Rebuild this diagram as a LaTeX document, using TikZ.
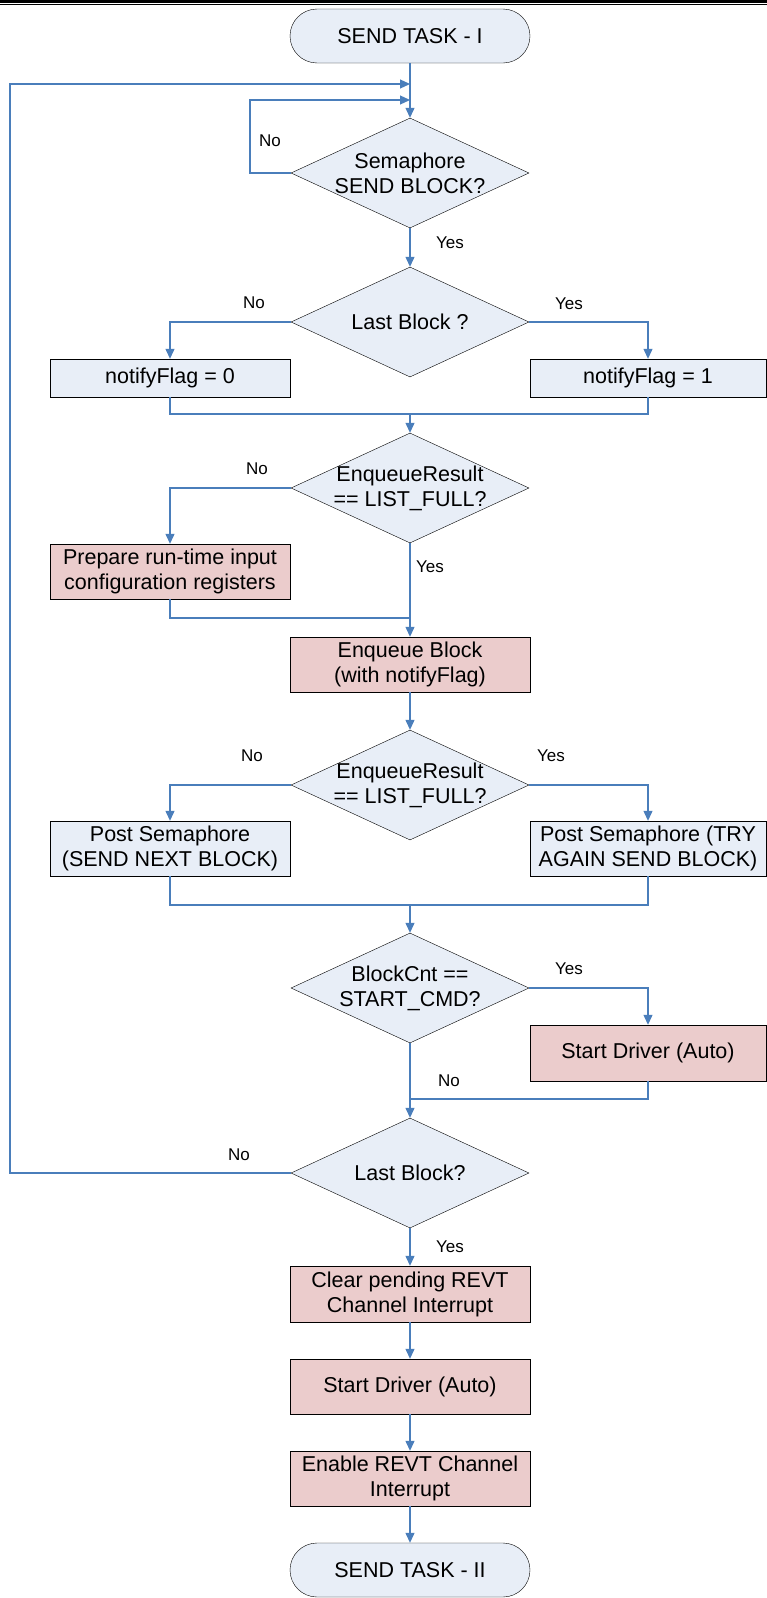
\documentclass[tikz,border=0pt]{standalone}
\usepackage{fontspec}
\setmainfont{Liberation Sans}
\usetikzlibrary{shapes.geometric, arrows.meta, positioning}

\definecolor{flowline}{RGB}{74,126,187}
\definecolor{fillblue}{RGB}{232,238,247}
\definecolor{fillpink}{RGB}{235,204,204}

\begin{document}
\begin{tikzpicture}[x=1pt, y=-1pt,
    every node/.style={font=\fontsize{21.5}{25}\selectfont},
    terminal/.style={draw=black, fill=fillblue, rounded corners=27pt, minimum width=240pt, minimum height=54pt, inner sep=0pt},
    decision/.style={draw=black, fill=fillblue, diamond, shape aspect=2.16, minimum width=238pt, minimum height=110pt, inner sep=-6pt, align=center},
    bluebox/.style={draw=black, fill=fillblue, minimum width=240pt, inner sep=0pt, align=center},
    pinkbox/.style={bluebox, fill=fillpink},
    tag/.style={font=\fontsize{17}{20}\selectfont, inner sep=0pt},
    flow/.style={draw=flowline, line width=1.2pt},
    flowarrow/.style={flow, -{Triangle[length=10pt,width=9pt]}}]

\useasboundingbox (0,0) rectangle (767,1598);

% Page rule at the top
\fill (0,0) rectangle (767,2.8);
\fill (0,4.2) rectangle (767,5.4);

% Start and first semaphore wait
\node[terminal] (start) at (410,36) {SEND TASK - I};
\node[decision] (semwait) at (410,173) {Semaphore\\SEND BLOCK?};

% Choose notifyFlag
\node[decision] (last1) at (410,322) {Last Block ?};
\node[bluebox, minimum height=38pt] (flag0) at (170,378) {notifyFlag = 0};
\node[bluebox, minimum width=236pt, minimum height=38pt] (flag1) at (648,378) {notifyFlag = 1};

% Enqueue the block
\node[decision] (full1) at (410,488) {EnqueueResult\\== LIST\_FULL?};
\node[pinkbox, minimum height=55pt] (prep) at (170,571.5) {Prepare run-time input\\configuration registers};
\node[pinkbox, minimum height=55pt] (enq) at (410,664.5) {Enqueue Block\\(with notifyFlag)};

% Post the semaphore
\node[decision] (full2) at (410,785) {EnqueueResult\\== LIST\_FULL?};
\node[bluebox, minimum height=55pt] (postnext) at (170,848.5) {Post Semaphore\\(SEND NEXT BLOCK)};
\node[bluebox, minimum width=236pt, minimum height=55pt] (postagain) at (648,848.5) {Post Semaphore (TRY\\AGAIN SEND BLOCK)};

% Start the driver once enough blocks are queued
\node[decision] (cnt) at (410,988) {BlockCnt ==\\START\_CMD?};
\node[pinkbox, minimum width=236pt, minimum height=56pt] (drvA) at (648,1053) {Start Driver (Auto)};

% Last block and the end
\node[decision] (last2) at (410,1173) {Last Block?};
\node[pinkbox, minimum height=56pt] (clear) at (410,1294) {Clear pending REVT\\Channel Interrupt};
\node[pinkbox, minimum height=55pt] (drvB) at (410,1386.5) {Start Driver (Auto)};
\node[pinkbox, minimum height=55pt] (enable) at (410,1478.5) {Enable REVT Channel\\Interrupt};
\node[terminal] (stop) at (410,1570) {SEND TASK - II};

% Points where lines meet
\coordinate (joinA) at (410,84);
\coordinate (joinB) at (410,100);
\coordinate (rail) at (10,0);
\coordinate (retry) at (250,0);
\coordinate (merge1) at (410,414);
\coordinate (merge2) at (410,618);
\coordinate (merge3) at (410,905);
\coordinate (merge4) at (410,1099);

% Connectors
\draw[flowarrow] (start) -- (semwait);
\draw[flowarrow] (semwait.west) -- (semwait.west -| retry) |- (joinB);
\draw[flowarrow] (last2.west) -- (last2.west -| rail) |- (joinA);
\draw[flowarrow] (semwait) -- (last1);
\draw[flowarrow] (last1.west) -| (flag0.north);
\draw[flowarrow] (last1.east) -| (flag1.north);
\draw[flow] (flag0.south) |- (merge1) -| (flag1.south);
\draw[flowarrow] (merge1) -- (full1.north);
\draw[flowarrow] (full1.west) -| (prep.north);
\draw[flow] (prep.south) |- (merge2);
\draw[flowarrow] (full1) -- (enq);
\draw[flowarrow] (enq) -- (full2);
\draw[flowarrow] (full2.west) -| (postnext.north);
\draw[flowarrow] (full2.east) -| (postagain.north);
\draw[flow] (postnext.south) |- (merge3) -| (postagain.south);
\draw[flowarrow] (merge3) -- (cnt.north);
\draw[flowarrow] (cnt.east) -| (drvA.north);
\draw[flow] (drvA.south) |- (merge4);
\draw[flowarrow] (cnt) -- (last2);
\foreach \from/\to in {last2/clear, clear/drvB, drvB/enable, enable/stop}
    \draw[flowarrow] (\from) -- (\to);

% Yes / No labels
\node[tag] (no1) at (270,141) {No};
\node[tag] (yes1) at (450,243) {Yes};
\node[tag] (no2) at (254,303) {No};
\node[tag] (yes2) at (569,304) {Yes};
\node[tag] (no3) at (257,469) {No};
\node[tag] (yes3) at (430,567) {Yes};
\node[tag] (no4) at (252,756) {No};
\node[tag] (yes4) at (551,756) {Yes};
\node[tag] (yes5) at (569,969) {Yes};
\node[tag] (no5) at (449,1081) {No};
\node[tag] (no6) at (239,1155) {No};
\node[tag] (yes6) at (450,1247) {Yes};

\end{tikzpicture}
\end{document}
